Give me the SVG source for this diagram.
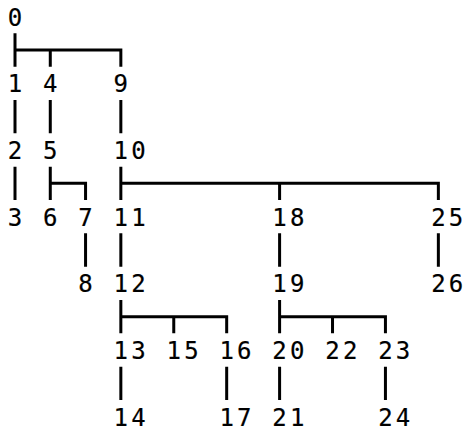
<svg xmlns="http://www.w3.org/2000/svg" width="464" height="432" viewBox="0 0 464 432">
<style>
.n text{font-family:"DejaVu Sans Mono","Liberation Mono",monospace;font-size:24px;fill:#000;stroke:#000;stroke-width:0.2;text-anchor:middle}
.c path{fill:none;stroke:#000;stroke-width:3;stroke-linejoin:miter;stroke-linecap:butt}
</style>
<rect width="464" height="432" fill="#fff"/>
<g class="c" id="connectors">
<path d="M15 33.33V66.67M15 50H120.84V66.67M50.28 50V66.67"/>
<path d="M15 100V133.33M50.28 100V133.33M120.84 100V133.33"/>
<path d="M15 166.67V200M50.28 166.67V200M50.28 183.33H85.56V200M120.84 166.67V200M120.84 183.33H438.36V200M279.6 183.33V200"/>
<path d="M85.56 233.33V266.67M120.84 233.33V266.67M279.6 233.33V266.67M438.36 233.33V266.67"/>
<path d="M120.84 300V333.33M120.84 316.67H226.68V333.33M173.76 316.67V333.33M279.6 300V333.33M279.6 316.67H385.44V333.33M332.52 316.67V333.33"/>
<path d="M120.84 366.67V400M226.68 366.67V400M279.6 366.67V400M385.44 366.67V400"/>
</g>
<g class="n">
<g id="n0"><text x="15" y="25.5">0</text></g>
<g id="n1"><text x="15" y="92.1">1</text></g>
<g id="n4"><text x="50.28" y="92.1">4</text></g>
<g id="n9"><text x="120.84" y="92.1">9</text></g>
<g id="n2"><text x="15" y="158.8">2</text></g>
<g id="n5"><text x="50.28" y="158.8">5</text></g>
<g id="n10"><text x="120.84 138.48" y="158.8">10</text></g>
<g id="n3"><text x="15" y="225.5">3</text></g>
<g id="n6"><text x="50.28" y="225.5">6</text></g>
<g id="n7"><text x="85.56" y="225.5">7</text></g>
<g id="n11"><text x="120.84 138.48" y="225.5">11</text></g>
<g id="n18"><text x="279.6 297.24" y="225.5">18</text></g>
<g id="n25"><text x="438.36 456" y="225.5">25</text></g>
<g id="n8"><text x="85.56" y="292.1">8</text></g>
<g id="n12"><text x="120.84 138.48" y="292.1">12</text></g>
<g id="n19"><text x="279.6 297.24" y="292.1">19</text></g>
<g id="n26"><text x="438.36 456" y="292.1">26</text></g>
<g id="n13"><text x="120.84 138.48" y="358.8">13</text></g>
<g id="n15"><text x="173.76 191.4" y="358.8">15</text></g>
<g id="n16"><text x="226.68 244.32" y="358.8">16</text></g>
<g id="n20"><text x="279.6 297.24" y="358.8">20</text></g>
<g id="n22"><text x="332.52 350.16" y="358.8">22</text></g>
<g id="n23"><text x="385.44 403.08" y="358.8">23</text></g>
<g id="n14"><text x="120.84 138.48" y="425.5">14</text></g>
<g id="n17"><text x="226.68 244.32" y="425.5">17</text></g>
<g id="n21"><text x="279.6 297.24" y="425.5">21</text></g>
<g id="n24"><text x="385.44 403.08" y="425.5">24</text></g>
</g>
</svg>
